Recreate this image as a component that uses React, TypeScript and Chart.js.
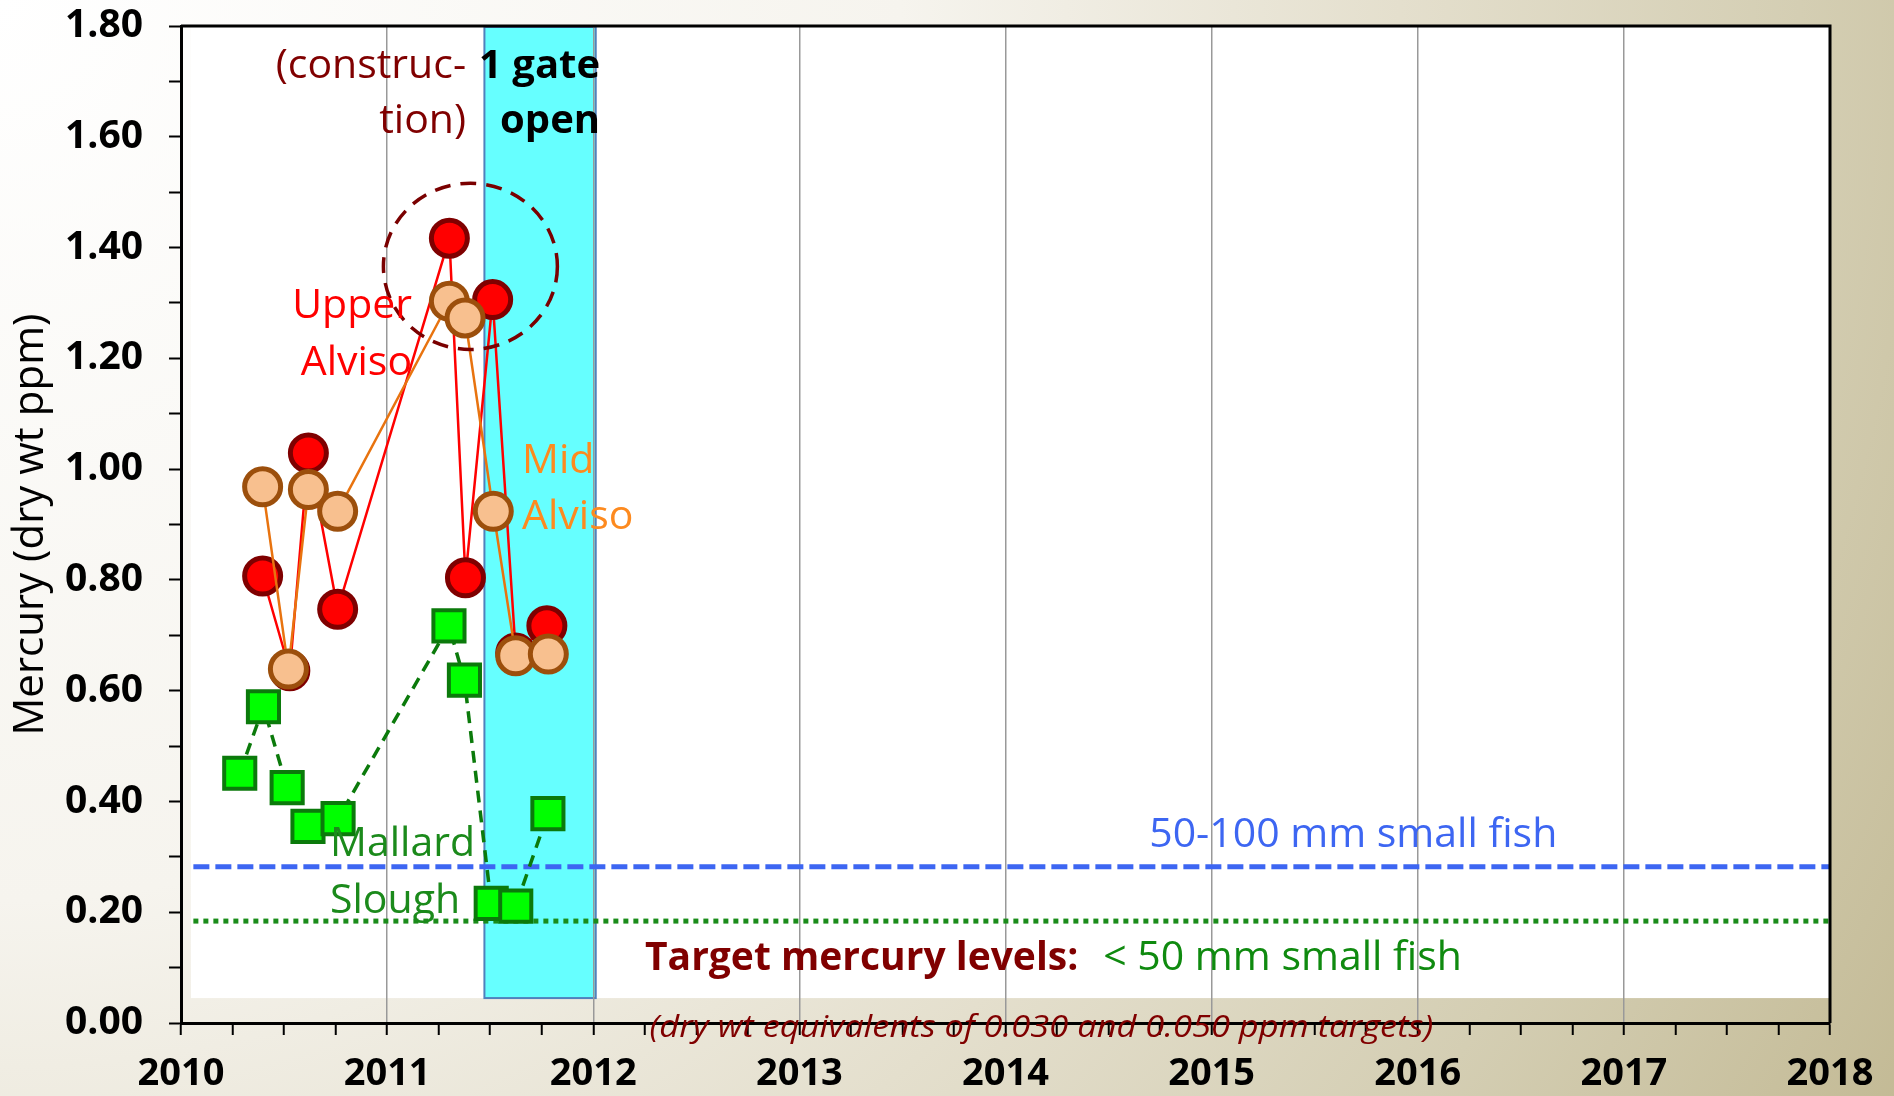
import React, { useEffect, useRef } from "react";
import { Chart, registerables } from "chart.js";

Chart.register(...registerables);

// ---- data (sample dates as decimal years, mercury in dry wt ppm) ----
const upperAlvisoDates = [2010.396, 2010.528, 2010.618, 2010.76, 2011.302, 2011.38, 2011.512, 2011.624, 2011.775];
const upperAlvisoValues = [0.807, 0.636, 1.029, 0.747, 1.417, 0.804, 1.306, 0.668, 0.717];

const midAlvisoDates = [2010.396, 2010.521, 2010.618, 2010.76, 2011.302, 2011.378, 2011.515, 2011.624, 2011.782];
const midAlvisoValues = [0.968, 0.639, 0.963, 0.924, 1.303, 1.273, 0.924, 0.663, 0.666];

const mallardDates = [2010.285, 2010.4, 2010.515, 2010.616, 2010.762, 2011.3, 2011.375, 2011.505, 2011.624, 2011.78];
const mallardValues = [0.451, 0.571, 0.425, 0.355, 0.369, 0.717, 0.619, 0.216, 0.211, 0.378];

const yearTickLabels = ["2010", "2011", "2012", "2013", "2014", "2015", "2016", "2017", "2018"];
const valueTickLabels = ["0.00", "0.20", "0.40", "0.60", "0.80", "1.00", "1.20", "1.40", "1.60", "1.80"];

const target50to100mm = 0.282; // dry wt equivalent of 0.050 ppm
const targetUnder50mm = 0.184; // dry wt equivalent of 0.030 ppm
const gateOpenPeriod = [2011.472, 2012.012];

const labelTexts = {
  construction: ["(construc-", "tion)"],
  gate: ["1 gate", "open"],
  upper: ["Upper", "Alviso"],
  mid: ["Mid", "Alviso"],
  mallard: ["Mallard", "Slough"],
  fish50to100: "50-100 mm small fish",
  targetTitle: "Target mercury levels:",
  fishUnder50: "< 50 mm small fish",
  footnote: "(dry wt equivalents of 0.030 and 0.050 ppm targets)",
};

const ANN_FONT = '"Open Sans", "DejaVu Sans", sans-serif';
const TICK_FONT = "Open Sans";

const pts = (xs: number[], ys: number[]) => xs.map((x, i) => ({ x, y: ys[i] }));

const overlayPlugin = {
  id: "overlay",
  beforeDraw(chart: any) {
    const { ctx, scales } = chart;
    const x = scales.x, y = scales.y;
    ctx.save();
    // white plotting panel
    const l = x.getPixelForValue(2010.048);
    const r = x.getPixelForValue(2018);
    const t = y.getPixelForValue(1.8);
    const b = y.getPixelForValue(0.045);
    ctx.fillStyle = "#ffffff";
    ctx.fillRect(l, t, r - l, b - t);
    // gate-open period
    const cl = x.getPixelForValue(gateOpenPeriod[0]);
    const cr = x.getPixelForValue(gateOpenPeriod[1]);
    ctx.fillStyle = "#66ffff";
    ctx.fillRect(cl, t, cr - cl, b - t);
    ctx.strokeStyle = "#4f81bd";
    ctx.lineWidth = 2;
    ctx.strokeRect(cl, t + 1, cr - cl, b - t - 1);
    ctx.restore();
  },
  beforeDatasetsDraw(chart: any) {
    const { ctx, scales } = chart;
    const x = scales.x, y = scales.y;
    const l = x.getPixelForValue(2010.06);
    const r = x.getPixelForValue(2018);
    ctx.save();
    // 50-100 mm target
    ctx.strokeStyle = "#3d66f2";
    ctx.lineWidth = 5;
    ctx.setLineDash([16, 6]);
    const yb = y.getPixelForValue(target50to100mm);
    ctx.beginPath();
    ctx.moveTo(l, yb);
    ctx.lineTo(r, yb);
    ctx.stroke();
    // < 50 mm target
    ctx.strokeStyle = "#1a8c1a";
    ctx.lineWidth = 5;
    ctx.setLineDash([5, 5]);
    const yg = y.getPixelForValue(targetUnder50mm);
    ctx.beginPath();
    ctx.moveTo(l, yg);
    ctx.lineTo(r, yg);
    ctx.stroke();
    ctx.restore();
  },
  afterDatasetsDraw(chart: any) {
    const { ctx, scales } = chart;
    const x = scales.x, y = scales.y;
    const X = (v: number) => x.getPixelForValue(v);
    const Y = (v: number) => y.getPixelForValue(v);
    ctx.save();
    // dashed highlight ellipse
    const cx = X(2011.404), cy = Y(1.366);
    const rx = X(2011.404 + 0.422) - cx;
    const ry = cy - Y(1.366 + 0.15);
    ctx.strokeStyle = "#7a0000";
    ctx.lineWidth = 3.5;
    ctx.setLineDash([16, 10]);
    ctx.beginPath();
    ctx.ellipse(cx, cy, rx, ry, 0, 0, Math.PI * 2);
    ctx.stroke();
    ctx.setLineDash([]);

    const text = (s: string, px: number, py: number, color: string, font: string, align: CanvasTextAlign) => {
      ctx.font = font;
      ctx.fillStyle = color;
      ctx.textAlign = align;
      ctx.textBaseline = "alphabetic";
      ctx.fillText(s, px, py);
    };
    const f = `41px ${ANN_FONT}`;
    const fb = `bold 40px ${ANN_FONT}`;
    text(labelTexts.construction[0], X(2011.383), Y(1.706), "#800000", f, "right");
    text(labelTexts.construction[1], X(2011.383), Y(1.606), "#800000", f, "right");
    text(labelTexts.gate[0], X(2012.033), Y(1.706), "#000000", fb, "right");
    text(labelTexts.gate[1], X(2012.033), Y(1.606), "#000000", fb, "right");
    text(labelTexts.upper[0], X(2011.121), Y(1.2726), "#ff0000", f, "right");
    text(labelTexts.upper[1], X(2011.121), Y(1.1706), "#ff0000", f, "right");
    text(labelTexts.mid[0], X(2011.6546), Y(0.9934), "#fd8a1f", f, "left");
    text(labelTexts.mid[1], X(2011.6546), Y(0.8913), "#fd8a1f", f, "left");
    text(labelTexts.mallard[0], X(2010.723), Y(0.3009), "#1b8a1b", f, "left");
    text(labelTexts.mallard[1], X(2010.723), Y(0.1988), "#1b8a1b", f, "left");
    text(labelTexts.fish50to100, X(2015.687), Y(0.3177), "#3d66f2", f, "center");
    text(labelTexts.targetTitle, X(2012.251), Y(0.0955), "#800000", `bold 39px ${ANN_FONT}`, "left");
    text(labelTexts.fishUnder50, X(2014.474), Y(0.0955), "#0f8a0f", f, "left");
    ctx.restore();
  },
  afterDraw(chart: any) {
    const { ctx, chartArea, scales } = chart;
    const x = scales.x, y = scales.y;
    ctx.save();
    ctx.strokeStyle = "#000";
    ctx.lineWidth = 3;
    ctx.beginPath();
    ctx.moveTo(chartArea.left, chartArea.top);
    ctx.lineTo(chartArea.right, chartArea.top);
    ctx.lineTo(chartArea.right, chartArea.bottom);
    ctx.stroke();
    // footnote, stretched to the reference width
    ctx.font = `italic 31px ${ANN_FONT}`;
    ctx.fillStyle = "#800000";
    ctx.textAlign = "left";
    ctx.textBaseline = "alphabetic";
    const fx = x.getPixelForValue(2012.273);
    const fxr = x.getPixelForValue(2016.075);
    const fy = y.getPixelForValue(-0.0247);
    const w = ctx.measureText(labelTexts.footnote).width;
    const sx = w > 0 ? (fxr - fx) / w : 1;
    ctx.translate(fx, fy);
    ctx.scale(sx, 1);
    ctx.fillText(labelTexts.footnote, 0, 0);
    ctx.restore();
  },
};

export default function App() {
  const ref = useRef<HTMLCanvasElement | null>(null);
  useEffect(() => {
    if (!ref.current) return;
    const chart = new Chart(ref.current, {
      type: "line",
      data: {
        datasets: [
          {
            label: "Mid Alviso",
            data: pts(midAlvisoDates, midAlvisoValues),
            borderColor: "#e8730f",
            borderWidth: 2.5,
            pointStyle: "circle",
            pointRadius: 18,
            pointBorderWidth: 5,
            pointBackgroundColor: "#f8c08f",
            pointBorderColor: "#9c4f0c",
            order: 1,
          },
          {
            label: "Upper Alviso",
            data: pts(upperAlvisoDates, upperAlvisoValues),
            borderColor: "#ff0000",
            borderWidth: 2.5,
            pointStyle: "circle",
            pointRadius: 18,
            pointBorderWidth: 5,
            pointBackgroundColor: "#ff0000",
            pointBorderColor: "#7f0000",
            order: 2,
          },
          {
            label: "Mallard Slough",
            data: pts(mallardDates, mallardValues),
            borderColor: "#0b7a0b",
            borderWidth: 3.5,
            borderDash: [12, 8],
            pointStyle: "rect",
            pointRadius: 22,
            pointBorderWidth: 4,
            pointBackgroundColor: "#00ff00",
            pointBorderColor: "#0b7a0b",
            order: 3,
          },
        ],
      },
      options: {
        animation: false,
        responsive: false,
        events: [],
        layout: { padding: { left: 0, top: 24, right: 64, bottom: 0 } },
        plugins: { legend: { display: false }, tooltip: { enabled: false } },
        scales: {
          x: {
            type: "linear",
            min: 2010,
            max: 2018,
            afterFit: (s: any) => {
              s.height = 73;
              s.paddingLeft = 0;
              s.paddingRight = 0;
            },
            ticks: {
              stepSize: 0.25,
              autoSkip: false,
              maxRotation: 0,
              padding: 16,
              color: "#000",
              font: { family: TICK_FONT, size: 38, weight: "bold" },
              callback: (v: any) => {
                const n = Number(v);
                if (Math.abs(n - Math.round(n)) > 1e-6) return "";
                return yearTickLabels[Math.round(n) - 2010] ?? "";
              },
            },
            grid: {
              drawOnChartArea: true,
              lineWidth: 1.5,
              tickLength: 12,
              tickWidth: 2,
              tickColor: "#000",
              color: (c: any) => {
                const n = c.tick ? c.tick.value : 0;
                const isYear = Math.abs(n - Math.round(n)) < 1e-6;
                return isYear && n > 2010.5 && n < 2017.5 ? "#999999" : "rgba(0,0,0,0)";
              },
            },
            border: { display: true, color: "#000", width: 3 },
          },
          y: {
            type: "linear",
            min: 0,
            max: 1.8,
            afterFit: (s: any) => {
              s.width = 181;
              s.paddingTop = 0;
              s.paddingBottom = 0;
            },
            title: {
              display: true,
              text: "Mercury (dry wt ppm)",
              color: "#000",
              font: { family: "Open Sans", size: 42, weight: "normal" },
              padding: { top: 6, bottom: 0 },
            },
            ticks: {
              stepSize: 0.1,
              autoSkip: false,
              padding: 26,
              color: "#000",
              font: { family: TICK_FONT, size: 39, weight: "bold" },
              callback: (v: any) => {
                const k = Math.round(Number(v) * 10);
                return k % 2 === 0 ? valueTickLabels[k / 2] ?? "" : "";
              },
            },
            grid: {
              drawOnChartArea: false,
              tickLength: 12,
              tickWidth: 2,
              tickColor: "#000",
              color: "#000",
            },
            border: { display: true, color: "#000", width: 3 },
          },
        },
      },
      plugins: [overlayPlugin],
    } as any);
    return () => chart.destroy();
  }, []);

  return (
    <div
      style={{
        position: "fixed",
        left: 0,
        top: 0,
        width: 1894,
        height: 1096,
        background:
          "radial-gradient(circle at 0 0, #ffffff 0px, #f6f4ee 900px, #e4dfcd 1400px, #d4ceb3 1800px, #c3ba95 2200px)",
      }}
    >
      <canvas ref={ref} width={1894} height={1096} style={{ display: "block" }} />
    </div>
  );
}
